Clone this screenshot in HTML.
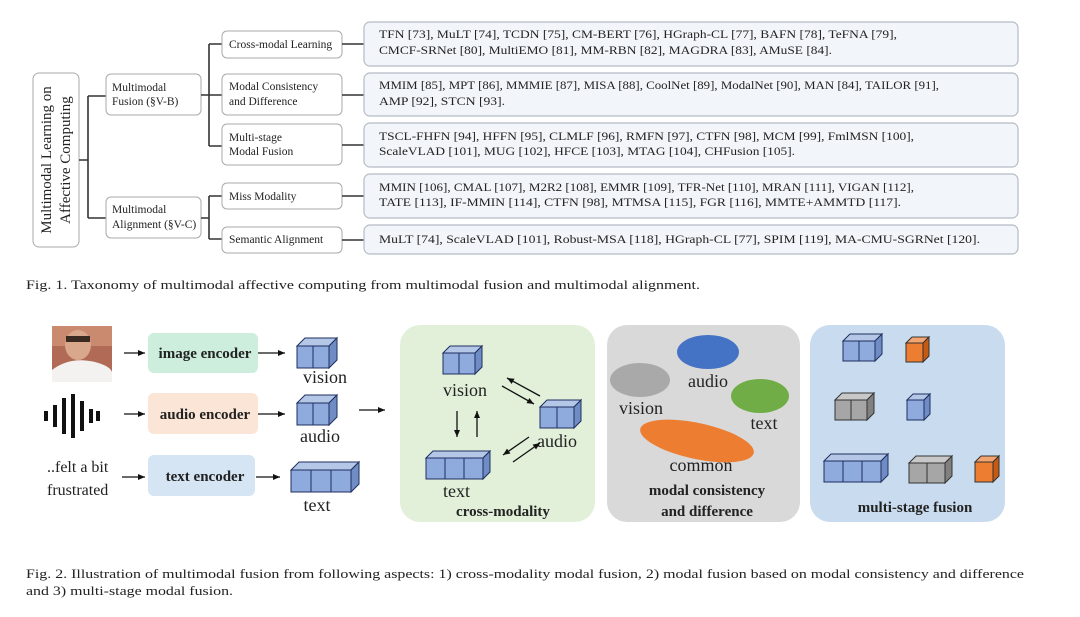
<!DOCTYPE html>
<html><head><meta charset="utf-8"><style>
html,body{margin:0;padding:0;background:#fff;}
svg{display:block;font-family:"Liberation Serif",serif;}
.t{font-size:11.5px;fill:#222;}
.c{stroke:#333;stroke-width:1.6;fill:none;}
.mb{fill:#fff;stroke:#aaa;stroke-width:1;}
.rb{fill:#f2f5f9;stroke:#b5bcc6;stroke-width:1.2;}
.cb .f{fill:#8faadc;stroke:#1f2f5f;stroke-width:1;}
.cb .tp{fill:#b4c7e7;stroke:#1f2f5f;stroke-width:1;}
.cb .sd{fill:#6f8cc4;stroke:#1f2f5f;stroke-width:1;}
.cg .f{fill:#a6a6a6;stroke:#333;stroke-width:1;}
.cg .tp{fill:#c8c8c8;stroke:#333;stroke-width:1;}
.cg .sd{fill:#808080;stroke:#333;stroke-width:1;}
.co .f{fill:#ed7d31;stroke:#333;stroke-width:1;}
.co .tp{fill:#f4a46e;stroke:#333;stroke-width:1;}
.co .sd{fill:#c55a11;stroke:#333;stroke-width:1;}
.lbl{font-size:18px;fill:#222;}
.bd{font-weight:bold;font-size:15px;fill:#222;}
.ar{stroke:#111;stroke-width:1.3;fill:none;marker-end:url(#ah);}
</style></head><body>
<svg width="1080" height="617" viewBox="0 0 1080 617" xmlns="http://www.w3.org/2000/svg">
<defs><marker id="ah" markerWidth="8" markerHeight="8" refX="7" refY="4" orient="auto" markerUnits="userSpaceOnUse"><path d="M0,1 L7,4 L0,7 z" fill="#111"/></marker></defs>

<rect x="33" y="73" width="46" height="174" rx="6" class="mb"/>
<text transform="translate(51,160) rotate(-90)" text-anchor="middle" style="font-size:15px;fill:#222">Multimodal Learning on</text>
<text transform="translate(70,160) rotate(-90)" text-anchor="middle" style="font-size:15px;fill:#222">Affective Computing</text>
<path class="c" d="M79,160 H88 M88,96 V218 M88,96 H106 M88,218 H106"/>
<rect x="106" y="74" width="95" height="41" rx="5" class="mb"/>
<text x="112" y="91" class="t">Multimodal</text><text x="112" y="105" class="t">Fusion (§V-B)</text>
<rect x="106" y="197" width="95" height="41" rx="5" class="mb"/>
<text x="112" y="213" class="t">Multimodal</text><text x="112" y="228" class="t">Alignment (§V-C)</text>
<path class="c" d="M201,95 H209 M209,44 V146 M209,44 H222 M209,95 H222 M209,146 H222"/>
<path class="c" d="M201,218 H209 M209,196 V239 M209,196 H222 M209,239 H222"/>
<rect x="222" y="31" width="120" height="27" rx="5" class="mb"/><text x="229" y="48" class="t">Cross-modal Learning</text>
<rect x="222" y="74" width="120" height="41" rx="5" class="mb"/><text x="229" y="90" class="t">Modal Consistency</text><text x="229" y="105" class="t">and Difference</text>
<rect x="222" y="124" width="120" height="41" rx="5" class="mb"/><text x="229" y="141" class="t">Multi-stage</text><text x="229" y="155" class="t">Modal Fusion</text>
<rect x="222" y="183" width="120" height="26" rx="5" class="mb"/><text x="229" y="200" class="t">Miss Modality</text>
<rect x="222" y="227" width="120" height="26" rx="5" class="mb"/><text x="229" y="243" class="t">Semantic Alignment</text>
<path class="c" d="M342,44 H364 M342,95 H364 M342,145 H364 M342,196 H364 M342,240 H364"/>
<rect x="364" y="22" width="654" height="44" rx="6" class="rb"/>
<rect x="364" y="73" width="654" height="43" rx="6" class="rb"/>
<rect x="364" y="123" width="654" height="44" rx="6" class="rb"/>
<rect x="364" y="174" width="654" height="44" rx="6" class="rb"/>
<rect x="364" y="225" width="654" height="29" rx="6" class="rb"/>
<g class="t">
<text x="379" y="38" textLength="518" lengthAdjust="spacingAndGlyphs">TFN [73], MuLT [74], TCDN [75], CM-BERT [76], HGraph-CL [77], BAFN [78], TeFNA [79],</text>
<text x="379" y="54" textLength="453" lengthAdjust="spacingAndGlyphs">CMCF-SRNet [80], MultiEMO [81], MM-RBN [82], MAGDRA [83], AMuSE [84].</text>
<text x="379" y="89" textLength="560" lengthAdjust="spacingAndGlyphs">MMIM [85], MPT [86], MMMIE [87], MISA [88], CoolNet [89], ModalNet [90], MAN [84], TAILOR [91],</text>
<text x="379" y="105" textLength="126" lengthAdjust="spacingAndGlyphs">AMP [92], STCN [93].</text>
<text x="379" y="140" textLength="535" lengthAdjust="spacingAndGlyphs">TSCL-FHFN [94], HFFN [95], CLMLF [96], RMFN [97], CTFN [98], MCM [99], FmlMSN [100],</text>
<text x="379" y="155" textLength="416" lengthAdjust="spacingAndGlyphs">ScaleVLAD [101], MUG [102], HFCE [103], MTAG [104], CHFusion [105].</text>
<text x="379" y="191" textLength="535" lengthAdjust="spacingAndGlyphs">MMIN [106], CMAL [107], M2R2 [108], EMMR [109], TFR-Net [110], MRAN [111], VIGAN [112],</text>
<text x="379" y="206" textLength="522" lengthAdjust="spacingAndGlyphs">TATE [113], IF-MMIN [114], CTFN [98], MTMSA [115], FGR [116], MMTE+AMMTD  [117].</text>
<text x="379" y="243" textLength="601" lengthAdjust="spacingAndGlyphs">MuLT [74], ScaleVLAD [101], Robust-MSA [118], HGraph-CL [77], SPIM [119], MA-CMU-SGRNet [120].</text>
</g>
<text x="26" y="289" style="font-size:13px;fill:#222" textLength="674" lengthAdjust="spacingAndGlyphs">Fig. 1.  Taxonomy of multimodal affective computing from multimodal fusion and multimodal alignment.</text>

<rect x="52" y="326" width="60" height="56" fill="#b06a55"/>
<rect x="52" y="326" width="60" height="20" fill="#c98a70"/>
<ellipse cx="78" cy="345" rx="13" ry="15" fill="#d9a78c"/>
<rect x="66" y="336" width="24" height="6" fill="#3a2a22"/>
<path d="M52,382 V370 Q70,356 95,362 Q110,366 112,372 V382 Z" fill="#f4f2f0"/>
<g fill="#111">
<rect x="44" y="411" width="4" height="10"/><rect x="53" y="405" width="4" height="22"/><rect x="62" y="398" width="4" height="36"/><rect x="71" y="394" width="4" height="44"/><rect x="80" y="401" width="4" height="30"/><rect x="89" y="409" width="4" height="14"/><rect x="96" y="411" width="4" height="10"/>
</g>
<text x="47" y="472" style="font-size:16px;fill:#222">..felt a bit</text>
<text x="47" y="495" style="font-size:16px;fill:#222">frustrated</text>
<rect x="148" y="333" width="110" height="40" rx="6" fill="#cdeedd"/>
<rect x="148" y="393" width="110" height="41" rx="6" fill="#fbe5d6"/>
<rect x="148" y="455" width="107" height="41" rx="6" fill="#d5e5f4"/>
<text x="205" y="358" text-anchor="middle" class="bd">image encoder</text>
<text x="205" y="419" text-anchor="middle" class="bd">audio encoder</text>
<text x="205" y="481" text-anchor="middle" class="bd">text encoder</text>
<path class="ar" d="M124,353 H145"/><path class="ar" d="M258,353 H285"/>
<path class="ar" d="M124,414 H145"/><path class="ar" d="M258,414 H285"/>
<path class="ar" d="M122,477 H145"/><path class="ar" d="M256,477 H280"/>
<path class="ar" d="M359,410 H385"/>

<g class="cb"><rect class="f" x="297" y="346" width="32" height="22"/><path class="f" d="M313,346V368"/><path class="tp" d="M297,346 305,338 337,338 329,346z"/><path class="sd" d="M329,346 337,338 337,360 329,368z"/></g>
<g class="cb"><rect class="f" x="297" y="403" width="32" height="22"/><path class="f" d="M313,403V425"/><path class="tp" d="M297,403 305,395 337,395 329,403z"/><path class="sd" d="M329,403 337,395 337,417 329,425z"/></g>
<g class="cb"><rect class="f" x="291" y="470" width="60" height="22"/><path class="f" d="M311,470V492M331,470V492"/><path class="tp" d="M291,470 299,462 359,462 351,470z"/><path class="sd" d="M351,470 359,462 359,484 351,492z"/></g>
<text x="325" y="383" text-anchor="middle" class="lbl">vision</text>
<text x="320" y="442" text-anchor="middle" class="lbl">audio</text>
<text x="317" y="511" text-anchor="middle" class="lbl">text</text>

<rect x="400" y="325" width="195" height="197" rx="20" fill="#e2f0d9"/>
<rect x="607" y="325" width="193" height="197" rx="20" fill="#d9d9d9"/>
<rect x="810" y="325" width="195" height="197" rx="20" fill="#c9dcef"/>

<g class="cb"><rect class="f" x="443" y="353" width="32" height="21"/><path class="f" d="M459,353V374"/><path class="tp" d="M443,353 450,346 482,346 475,353z"/><path class="sd" d="M475,353 482,346 482,367 475,374z"/></g>
<g class="cb"><rect class="f" x="540" y="407" width="34" height="21"/><path class="f" d="M557,407V428"/><path class="tp" d="M540,407 547,400 581,400 574,407z"/><path class="sd" d="M574,407 581,400 581,421 574,428z"/></g>
<g class="cb"><rect class="f" x="426" y="458" width="57" height="21"/><path class="f" d="M445,458V479M464,458V479"/><path class="tp" d="M426,458 433,451 490,451 483,458z"/><path class="sd" d="M483,458 490,451 490,472 483,479z"/></g>
<text x="443" y="396" class="lbl">vision</text>
<text x="537" y="447" class="lbl">audio</text>
<text x="443" y="497" class="lbl">text</text>
<text x="503" y="516" text-anchor="middle" class="bd">cross-modality</text>
<path class="ar" d="M540,396 L507,378"/><path class="ar" d="M502,386 L534,404"/>
<path class="ar" d="M457,411 V437"/><path class="ar" d="M477,437 V411"/>
<path class="ar" d="M529,437 L503,455"/><path class="ar" d="M513,462 L540,443"/>

<ellipse cx="708" cy="352" rx="31" ry="17" fill="#4472c4"/>
<ellipse cx="640" cy="380" rx="30" ry="17" fill="#a9a9a9"/>
<ellipse cx="760" cy="396" rx="29" ry="17" fill="#70ad47"/>
<ellipse cx="697" cy="441" rx="58" ry="18" fill="#ed7d31" transform="rotate(12 697 441)"/>
<text x="708" y="387" text-anchor="middle" class="lbl">audio</text>
<text x="641" y="414" text-anchor="middle" class="lbl">vision</text>
<text x="764" y="429" text-anchor="middle" class="lbl">text</text>
<text x="701" y="471" text-anchor="middle" class="lbl">common</text>
<text x="707" y="495" text-anchor="middle" class="bd">modal consistency</text>
<text x="707" y="516" text-anchor="middle" class="bd">and difference</text>

<g class="cb"><rect class="f" x="843" y="341" width="32" height="20"/><path class="f" d="M859,341V361"/><path class="tp" d="M843,341 850,334 882,334 875,341z"/><path class="sd" d="M875,341 882,334 882,354 875,361z"/></g>
<g class="co"><rect class="f" x="906" y="343" width="17" height="19"/><path class="tp" d="M906,343 912,337 929,337 923,343z"/><path class="sd" d="M923,343 929,337 929,356 923,362z"/></g>
<g class="cg"><rect class="f" x="835" y="400" width="32" height="20"/><path class="f" d="M851,400V420"/><path class="tp" d="M835,400 842,393 874,393 867,400z"/><path class="sd" d="M867,400 874,393 874,413 867,420z"/></g>
<g class="cb"><rect class="f" x="907" y="400" width="17" height="20"/><path class="tp" d="M907,400 913,394 930,394 924,400z"/><path class="sd" d="M924,400 930,394 930,414 924,420z"/></g>
<g class="cb"><rect class="f" x="824" y="461" width="57" height="21"/><path class="f" d="M843,461V482M862,461V482"/><path class="tp" d="M824,461 831,454 888,454 881,461z"/><path class="sd" d="M881,461 888,454 888,475 881,482z"/></g>
<g class="cg"><rect class="f" x="909" y="463" width="36" height="20"/><path class="f" d="M927,463V483"/><path class="tp" d="M909,463 916,456 952,456 945,463z"/><path class="sd" d="M945,463 952,456 952,476 945,483z"/></g>
<g class="co"><rect class="f" x="975" y="462" width="18" height="20"/><path class="tp" d="M975,462 981,456 999,456 993,462z"/><path class="sd" d="M993,462 999,456 999,476 993,482z"/></g>
<text x="915" y="512" text-anchor="middle" class="bd">multi-stage fusion</text>

<text x="26" y="578" style="font-size:13px;fill:#222" textLength="998" lengthAdjust="spacingAndGlyphs">Fig. 2.  Illustration of multimodal fusion from following aspects: 1) cross-modality modal fusion, 2) modal fusion based on modal consistency and difference</text>
<text x="26" y="595" style="font-size:13px;fill:#222" textLength="207" lengthAdjust="spacingAndGlyphs">and 3) multi-stage modal fusion.</text>
</svg>
</body></html>
